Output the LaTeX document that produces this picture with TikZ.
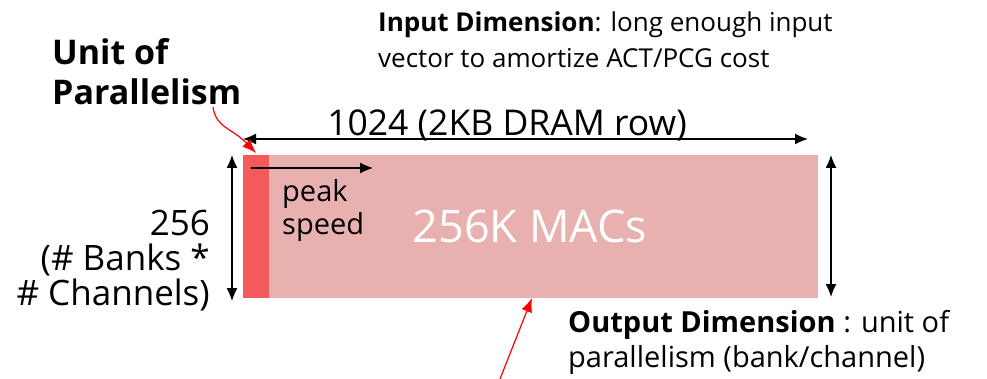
\documentclass[tikz,border=0pt]{standalone}
\usepackage{fontspec}
\setmainfont{Open Sans}
\usetikzlibrary{arrows.meta}
\definecolor{macfill}{RGB}{233,176,176}
\definecolor{stripfill}{RGB}{245,90,90}
\begin{document}
\begin{tikzpicture}[x=1pt,y=-1pt,
  dimarrow/.style={draw=black, line width=1.3pt, {Latex[length=13pt,width=11pt]}-{Latex[length=13pt,width=11pt]}},
  onearrow/.style={draw=black, line width=1.3pt, -{Latex[length=13pt,width=11pt]}},
  redarrow/.style={draw=red, line width=1.2pt, -{Latex[length=14pt,width=11pt]}},
  label/.style={inner sep=0pt, font=\fontsize{26}{36}\selectfont, align=left},
  boldlabel/.style={inner sep=0pt, font=\bfseries\fontsize{34}{40}\selectfont, align=left},
  block/.style={inner sep=0pt, outer sep=0pt, anchor=north west, minimum height=143pt}]
\useasboundingbox (0,0) rectangle (987,379);

% the MAC array and its first column
\node[block, fill=macfill, minimum width=575pt] (mac) at (243,155) {};
\node[block, fill=stripfill, minimum width=26pt] (strip) at (243,155) {};
\node[text=white, inner sep=0pt, font=\fontsize{45}{50}\selectfont, anchor=base] (macs) at (530,243) {256K MACs};

% dimension arrows
\coordinate (rowL) at (243,139);
\coordinate (rowR) at (808,139);
\draw[dimarrow] (rowL) -- (rowR);
\coordinate (colT) at (232,155);
\coordinate (colB) at (232,301);
\draw[dimarrow] (colT) -- (colB);
\coordinate (outT) at (831,155);
\coordinate (outB) at (831,297);
\draw[dimarrow] (outT) -- (outB);
\coordinate (peakS) at (251,168);
\coordinate (peakE) at (373,168);
\draw[onearrow] (peakS) -- (peakE);

% labels (base anchors sit on the last line)
\node[label, anchor=base west] (inputdim) at (378,68)
  {\textbf{Input Dimension}: long enough input\\vector to amortize ACT/PCG cost};
\node[boldlabel, anchor=base west] (unit) at (52,105) {Unit of\\Parallelism};
\node[label, font=\fontsize{35.5}{40}\selectfont, anchor=base] (rowlen) at (507,136) {1024 (2KB DRAM row)};
\node[label, font=\fontsize{35}{35}\selectfont, align=right, anchor=base east] (banks) at (210,305)
  {256\\(\# Banks *\\\# Channels)};
\node[label, font=\fontsize{29}{33}\selectfont, anchor=base west] (peak) at (282,235) {peak\\speed};
\node[label, font=\fontsize{29}{35}\selectfont, anchor=base west] (outdim) at (568,367)
  {\textbf{Output Dimension} : unit of\\parallelism (bank/channel)};

% pointers
\coordinate (unitTail) at (213,107);
\coordinate (unitTip) at (256,153);
\draw[redarrow] (unitTail) .. controls (216,128) and (232,128) .. (unitTip);
\coordinate (outTail) at (500,379);
\coordinate (outTip) at (532,298);
\draw[redarrow] (outTail) -- (outTip);
\end{tikzpicture}
\end{document}
